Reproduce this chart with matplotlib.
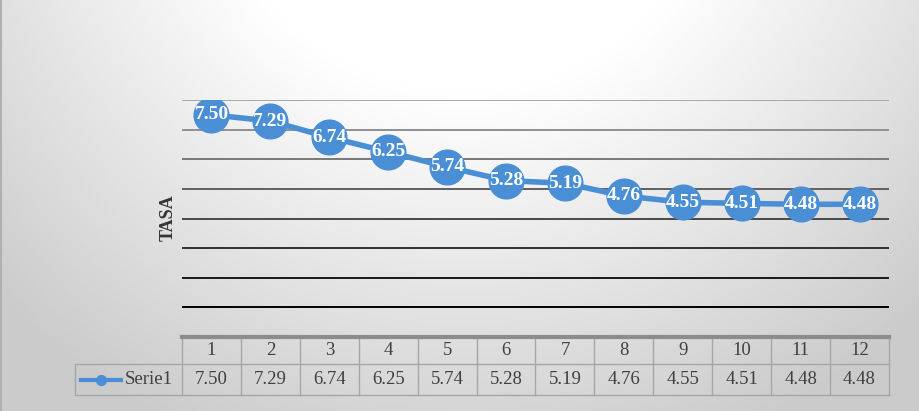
import numpy as np
import matplotlib.pyplot as plt
import matplotlib.transforms as mtransforms

# data
periods = [1, 2, 3, 4, 5, 6, 7, 8, 9, 10, 11, 12]
tasa = [7.50, 7.29, 6.74, 6.25, 5.74, 5.28, 5.19, 4.76, 4.55, 4.51, 4.48, 4.48]
series_name = 'Serie1'
y_label = 'TASA'

W, H = 920, 411
blue = '#4a8fd6'
txt = '#404040'
plt.rcParams['font.family'] = ['Liberation Serif', 'DejaVu Serif']

fig = plt.figure(figsize=(W / 100, H / 100), dpi=100)

# background: white glow at top centre fading to gray
bg = fig.add_axes([0, 0, 1, 1])
yy, xx = np.mgrid[0:H, 0:W]
r = np.sqrt((xx - 465.0) ** 2 + (yy + 169.0) ** 2)
t = np.clip((r - 262) / 400, 0, 1)
g = 255 - t * 52
img = np.dstack([g, g, g]) / 255.0
bg.imshow(img, extent=[0, W, H, 0], aspect='auto')
bg.set_xlim(0, W)
bg.set_ylim(H, 0)
bg.plot([1, 1], [0, H], color='#b0b0b0', lw=1.5)
bg.axis('off')

# plot area (pixels: x 182..889, y 100..337)
x0, x1, y0, y1 = 182, 889, 100, 337
ax = fig.add_axes([x0 / W, 1 - y1 / H, (x1 - x0) / W, (y1 - y0) / H])
ax.patch.set_alpha(0)
ax.set_xlim(0.5, len(periods) + 0.5)
ax.set_ylim(0, 8)
for s in ax.spines.values():
    s.set_visible(False)
ax.set_xticks([])
ax.set_yticks([])

# gridlines, gray at top getting darker toward the bottom
levels = np.arange(1, 9)
for lv in levels:
    shade = 0.66 * (lv - 1) / 7
    ax.axhline(lv, color=(shade, shade, shade), lw=1.4, zorder=1)

ax.plot(periods, tasa, '-o', color=blue, lw=4, ms=25, mec=blue, zorder=3)
for p, v in zip(periods, tasa):
    ax.text(p, v, '%.2f' % v, color='white', fontsize=14, fontweight='bold',
            ha='center', va='center', zorder=4)

fig.text(168 / W, 1 - 218 / H, y_label, rotation=90, fontsize=13,
         fontweight='bold', color='#333333', ha='center', va='center')

# data table under the axis
ph = y1 - y0
def ay(py):
    return (y1 - py) / ph

trans = mtransforms.blended_transform_factory(ax.transData, ax.transAxes)
px_unit = (x1 - x0) / len(periods)
xl = 0.5 - (x0 - 75) / px_unit
xr = len(periods) + 0.5
row1, row2, row3 = ay(337), ay(364), ay(395)
lc = '#a6a6a6'
kw = dict(transform=trans, clip_on=False, color=lc, lw=1)

ax.plot([0.5, xr], [row1, row1], transform=trans, clip_on=False,
        color='#8c8c8c', lw=3, zorder=5)
ax.plot([xl, xr], [row2, row2], **kw)
ax.plot([xl, xr], [row3, row3], **kw)
ax.plot([xl, xl], [row2, row3], **kw)
for b in np.arange(0.5, len(periods) + 1):
    ax.plot([b, b], [row1, row3], **kw)

for p, v in zip(periods, tasa):
    ax.text(p, (row1 + row2) / 2, str(p), transform=trans, ha='center',
            va='center', fontsize=13.5, color=txt)
    ax.text(p, (row2 + row3) / 2, '%.2f' % v, transform=trans, ha='center',
            va='center', fontsize=13.5, color=txt)

# legend key inside the table
ly = (row2 + row3) / 2
kx0 = xl + 6 / px_unit
kx1 = xl + 46 / px_unit
ax.plot([kx0, kx1], [ly, ly], transform=trans, clip_on=False, color=blue, lw=3)
ax.plot([(kx0 + kx1) / 2], [ly], 'o', transform=trans, clip_on=False,
        color=blue, ms=7)
ax.text(kx1 + 4 / px_unit, ly, series_name, transform=trans, ha='left',
        va='center', fontsize=13.5, color=txt)

fig.savefig('out.png', dpi=100)
